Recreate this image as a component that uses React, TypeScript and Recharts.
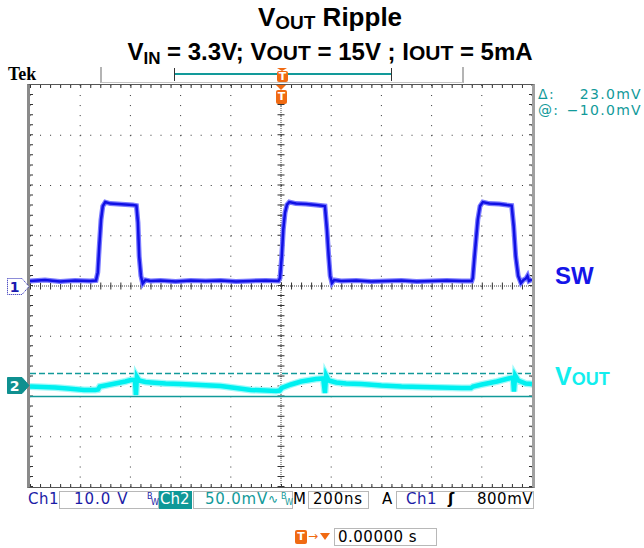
import React from 'react';
import { ComposedChart, Line, XAxis, YAxis, CartesianGrid, ReferenceLine } from 'recharts';

// Ch1 = SW node, [time ns, volts] (10 V/div, ground on centre line)
const ch1Trace: [number, number][] = [
  [-1000, 1.0], [-940, 1.2], [-880, 0.9], [-820, 1.1], [-760, 1.0],
  [-737, 1.1], [-730, 2.7], [-724, 7.9], [-717, 13.2], [-710, 15.9],
  [-700, 16.7], [-680, 16.4], [-650, 16.3], [-620, 16.2], [-590, 16.1],
  [-576, 16.0], [-570, 12.6], [-565, 5.9], [-558, 2.0], [-551, 0.5],
  [-540, 1.2], [-520, 1.0], [-480, 1.1], [-420, 0.9], [-360, 1.1],
  [-300, 1.0], [-240, 1.1], [-180, 0.9], [-120, 1.0], [-60, 1.1],
  [-10, 1.0], [-4, 1.6], [3, 5.9], [9, 11.2], [16, 14.6],
  [24, 16.2], [33, 16.7], [60, 16.4], [100, 16.3], [140, 16.1],
  [175, 15.9], [183, 11.2], [190, 5.9], [196, 2.0], [203, 0.6],
  [212, 1.2], [240, 1.0], [300, 1.1], [360, 0.9], [420, 1.0],
  [480, 1.1], [540, 0.9], [600, 1.0], [660, 1.1], [720, 1.0],
  [760, 1.0], [764, 1.6], [770, 5.3], [777, 9.3], [784, 13.2],
  [793, 15.9], [804, 16.7], [830, 16.4], [870, 16.3], [900, 16.1],
  [919, 16.0], [927, 11.9], [935, 5.9], [945, 2.0], [956, 0.6],
  [966, 1.2], [976, 1.5], [982, 2.0], [988, 1.0], [1000, 1.3],
];

// Ch2 = VOUT ripple, [time ns, mV] (50 mV/div, ground 2 div below centre)
const ch2Trace: [number, number][] = [
  [-1000, 0], [-950, -0.5], [-900, -1], [-850, -2], [-785, -3.5],
  [-740, -3.5], [-729, -3], [-722, 0], [-700, 1], [-660, 3],
  [-620, 5], [-598, 6.5], [-582, 7], [-578, -8.5], [-574, 9.5],
  [-566, 6], [-540, 4.5], [-518, 4], [-460, 3], [-400, 2.5],
  [-320, 1.5], [-240, 0.5], [-180, -1.5], [-120, -3.5], [-60, -4],
  [-20, -4.5], [-5, -4], [3, -1.5], [40, 2], [80, 5],
  [139, 7.5], [168, 8], [175, -6.5], [180, 11], [190, 6],
  [220, 4], [259, 3], [320, 2.5], [400, 1], [480, 0],
  [560, -0.5], [640, -1], [720, -1.5], [757, -1.5], [765, 0],
  [800, 2], [860, 5], [916, 8.5], [924, 9], [928, -5],
  [933, 11], [945, 6], [975, 3], [1000, 2.5],
];

const timeTicks = [-1000, -800, -600, -400, -200, 0, 200, 400, 600, 800, 1000];
const ch1Ticks = [-40, -30, -20, -10, 0, 10, 20, 30, 40];
const cursorLow = -10;   // mV
const cursorHigh = 13;   // mV

const ch1Data = ch1Trace.map(([t, v]) => ({ t, v }));
const ch2Data = ch2Trace.map(([t, v]) => ({ t, v }));

const tek = '"DejaVu Sans", Verdana, sans-serif';
const arial = '"Liberation Sans", Arial, sans-serif';
const ORANGE = '#f06a12';
const TEAL = '#129a9a';
const BLUE = '#1c1ca6';

function TMark({ left, top, tri = 5, box = 13 }: { left: number; top: number; tri?: number; box?: number }) {
  return (
    <div style={{ position: 'absolute', left, top, width: 11 }}>
      <div style={{ width: 0, height: 0, borderLeft: '5.5px solid transparent', borderRight: '5.5px solid transparent', borderTop: `${tri}px solid ${ORANGE}` }} />
      <div style={{ width: 11, height: box, background: ORANGE, borderRadius: 2, color: '#fff', font: `bold 11px/${box}px ${tek}`, textAlign: 'center' }}>T</div>
    </div>
  );
}

function ChMarker({ top, label, filled, color }: { top: number; label: string; filled: boolean; color: string }) {
  return (
    <svg style={{ position: 'absolute', left: 7, top }} width={23} height={17}>
      <polygon
        points="0.5,0.5 15,0.5 22,8.5 15,16.5 0.5,16.5"
        fill={filled ? color : '#fff'}
        stroke={color}
        strokeDasharray={filled ? undefined : '1 1'}
      />
      <text x={7.5} y={13.5} textAnchor="middle" fontFamily={tek} fontWeight="bold" fontSize={14} fill={filled ? '#fff' : color}>{label}</text>
    </svg>
  );
}

const boxStyle = (left: number, width: number): React.CSSProperties => ({
  position: 'absolute', left, top: 491, width, height: 18, border: '1px solid #b8b8b8', boxSizing: 'border-box',
});
const txt = (left: number, color: string, extra: React.CSSProperties = {}): React.CSSProperties => ({
  position: 'absolute', left, top: 492, color, font: `15px/15px ${tek}`, letterSpacing: 0.5, whiteSpace: 'nowrap', ...extra,
});

export default function App() {
  return (
    <div style={{ position: 'absolute', left: 0, top: 0, width: 644, height: 548, background: '#fff', overflow: 'hidden' }}>
      <ComposedChart width={644} height={548} margin={{ top: 85, left: 30, right: 112, bottom: 61 }}>
        <XAxis xAxisId="t" type="number" dataKey="t" domain={[-1000, 1000]} ticks={timeTicks} hide allowDataOverflow />
        <YAxis yAxisId="v1" type="number" domain={[-40, 40]} ticks={ch1Ticks} hide allowDataOverflow />
        <YAxis yAxisId="v2" type="number" domain={[-100, 300]} hide allowDataOverflow />
        <CartesianGrid xAxisId="t" yAxisId="v1" stroke="#333" strokeDasharray="1 9.04" />

        {/* centre crosshair with minor ticks */}
        <ReferenceLine xAxisId="t" yAxisId="v1" x={0} stroke="#444" strokeDasharray="1 1" />
        <ReferenceLine xAxisId="t" yAxisId="v1" y={0} stroke="#444" strokeDasharray="1 1" />
        <ReferenceLine xAxisId="t" yAxisId="v1" x={0} stroke="#333" strokeWidth={7} strokeDasharray="1 9.05" />
        <ReferenceLine xAxisId="t" yAxisId="v1" y={0} stroke="#333" strokeWidth={7} strokeDasharray="1 9.04" />
        {/* frame minor ticks */}
        <ReferenceLine xAxisId="t" yAxisId="v1" y={39.7} stroke="#333" strokeWidth={3} strokeDasharray="1 9.04" />
        <ReferenceLine xAxisId="t" yAxisId="v1" y={-39.7} stroke="#333" strokeWidth={3} strokeDasharray="1 9.04" />
        <ReferenceLine xAxisId="t" yAxisId="v1" x={-994} stroke="#333" strokeWidth={3} strokeDasharray="1 9.05" />
        <ReferenceLine xAxisId="t" yAxisId="v1" x={994} stroke="#333" strokeWidth={3} strokeDasharray="1 9.05" />

        {/* Ch2 cursors */}
        <ReferenceLine xAxisId="t" yAxisId="v2" y={cursorLow} stroke={TEAL} strokeWidth={1.5} />
        <ReferenceLine xAxisId="t" yAxisId="v2" y={cursorHigh} stroke={TEAL} strokeWidth={1.5} strokeDasharray="6 3" />

        <Line data={ch2Data} dataKey="v" xAxisId="t" yAxisId="v2" type="linear" dot={false} stroke="#9ffafa" strokeWidth={7} isAnimationActive={false} />
        <Line data={ch2Data} dataKey="v" xAxisId="t" yAxisId="v2" type="linear" dot={false} stroke="#00f0f0" strokeWidth={4.5} isAnimationActive={false} />
        <Line data={ch1Data} dataKey="v" xAxisId="t" yAxisId="v1" type="linear" dot={false} stroke="#7a7aff" strokeWidth={5} isAnimationActive={false} />
        <Line data={ch1Data} dataKey="v" xAxisId="t" yAxisId="v1" type="linear" dot={false} stroke="#1010e4" strokeWidth={2.5} isAnimationActive={false} />
      </ComposedChart>

      {/* frame */}
      <div style={{ position: 'absolute', left: 27, top: 84, width: 508, height: 404, boxSizing: 'border-box', borderLeft: '3px solid #8a8a8a', borderTop: '1px solid #555', borderRight: '3px solid #a0a0a0', borderBottom: '1px solid #555' }} />

      {/* titles */}
      <div style={{ position: 'absolute', left: 0, width: 660, top: 4, textAlign: 'center', font: `bold 26px/26px ${arial}` }}>
        V<span style={{ fontSize: 19, position: 'relative', top: 3 }}>OUT</span> Ripple
      </div>
      <div style={{ position: 'absolute', left: 0, width: 660, top: 40, textAlign: 'center', font: `bold 24px/24px ${arial}`, whiteSpace: 'nowrap' }}>
        V<span style={{ fontSize: 17, position: 'relative', top: 4 }}>IN</span> = 3.3V; V<span style={{ fontSize: 21 }}>OUT</span> = 15V ; I<span style={{ fontSize: 21 }}>OUT</span> = 5mA
      </div>

      <div style={{ position: 'absolute', left: 8, top: 65, font: 'bold 18px/18px "Liberation Serif", serif' }}>Tek</div>

      {/* record bar */}
      <div style={{ position: 'absolute', left: 100, top: 67, width: 364, height: 16, boxSizing: 'border-box', borderLeft: '2px solid #b4b4b4', borderRight: '2px solid #b4b4b4', borderBottom: '1px solid #c4c4c4' }} />
      <div style={{ position: 'absolute', left: 174, top: 68, width: 218, height: 13, boxSizing: 'border-box', borderLeft: '1.5px solid #333', borderRight: '1.5px solid #333' }}>
        <div style={{ position: 'absolute', left: 0, right: 0, top: 5, height: 1.5, background: TEAL }} />
      </div>
      <TMark left={277} top={68} tri={3} box={11} />
      <TMark left={276} top={85} tri={5} box={14} />

      {/* cursor readouts */}
      <div style={{ position: 'absolute', left: 538, width: 104, top: 87, color: TEAL, font: `14px/14px ${tek}`, letterSpacing: 1.3, display: 'flex', justifyContent: 'space-between' }}>
        <span>Δ:</span><span>23.0mV</span>
      </div>
      <div style={{ position: 'absolute', left: 538, width: 104, top: 103, color: TEAL, font: `14px/14px ${tek}`, letterSpacing: 1.3, display: 'flex', justifyContent: 'space-between' }}>
        <span>@:</span><span>−10.0mV</span>
      </div>

      {/* trace labels */}
      <div style={{ position: 'absolute', left: 555, top: 264, color: '#1515e8', font: `bold 24px/24px ${arial}` }}>SW</div>
      <div style={{ position: 'absolute', left: 555, top: 364, color: '#12eeee', font: `bold 25px/25px ${arial}` }}>
        V<span style={{ fontSize: 18 }}>OUT</span>
      </div>

      <ChMarker top={278} label="1" filled={false} color="#1a1ab0" />
      <ChMarker top={377} label="2" filled color="#0f9090" />

      {/* status bar */}
      <div style={txt(28, BLUE)}>Ch1</div>
      <div style={boxStyle(59, 100)} />
      <div style={txt(74, BLUE, { letterSpacing: 1 })}>10.0 V</div>
      <div style={{ position: 'absolute', left: 147, top: 493, color: BLUE, font: `8px/8px ${tek}` }}>B</div>
      <div style={{ position: 'absolute', left: 151, top: 499, color: BLUE, font: `8px/8px ${tek}` }}>W</div>
      <div style={{ position: 'absolute', left: 159, top: 491, width: 33, height: 18, background: '#0f9898' }} />
      <div style={txt(160, '#fff', { letterSpacing: 0 })}>Ch2</div>
      <div style={boxStyle(193, 100)} />
      <div style={txt(205, TEAL, { letterSpacing: 0.8 })}>50.0mV</div>
      <div style={txt(268, TEAL, { fontSize: 12 })}>∿</div>
      <div style={{ position: 'absolute', left: 281, top: 493, color: TEAL, font: `8px/8px ${tek}` }}>B</div>
      <div style={{ position: 'absolute', left: 285, top: 499, color: TEAL, font: `8px/8px ${tek}` }}>W</div>
      <div style={txt(293, '#000')}>M</div>
      <div style={boxStyle(308, 61)} />
      <div style={txt(313, '#000', { letterSpacing: 0.8 })}>200ns</div>
      <div style={txt(382, '#000')}>A</div>
      <div style={boxStyle(396, 138)} />
      <div style={txt(406, BLUE)}>Ch1</div>
      <div style={txt(448, '#000', { fontWeight: 'bold' })}>ʃ</div>
      <div style={txt(477, '#000')}>800mV</div>

      {/* trigger position readout */}
      <div style={{ position: 'absolute', left: 295, top: 530, width: 12, height: 14, background: ORANGE, borderRadius: 2, color: '#fff', font: `bold 11px/14px ${tek}`, textAlign: 'center' }}>T</div>
      <div style={{ position: 'absolute', left: 308, top: 529, color: ORANGE, font: `12px/14px ${tek}` }}>→</div>
      <div style={{ position: 'absolute', left: 320, top: 533, width: 0, height: 0, borderLeft: '5px solid transparent', borderRight: '5px solid transparent', borderTop: `7px solid ${ORANGE}` }} />
      <div style={{ position: 'absolute', left: 334, top: 528, width: 103, height: 18, border: '1px solid #b8b8b8', boxSizing: 'border-box' }} />
      <div style={{ position: 'absolute', left: 338, top: 530, color: '#000', font: `15px/15px ${tek}`, letterSpacing: 0.5 }}>0.00000 s</div>
    </div>
  );
}
